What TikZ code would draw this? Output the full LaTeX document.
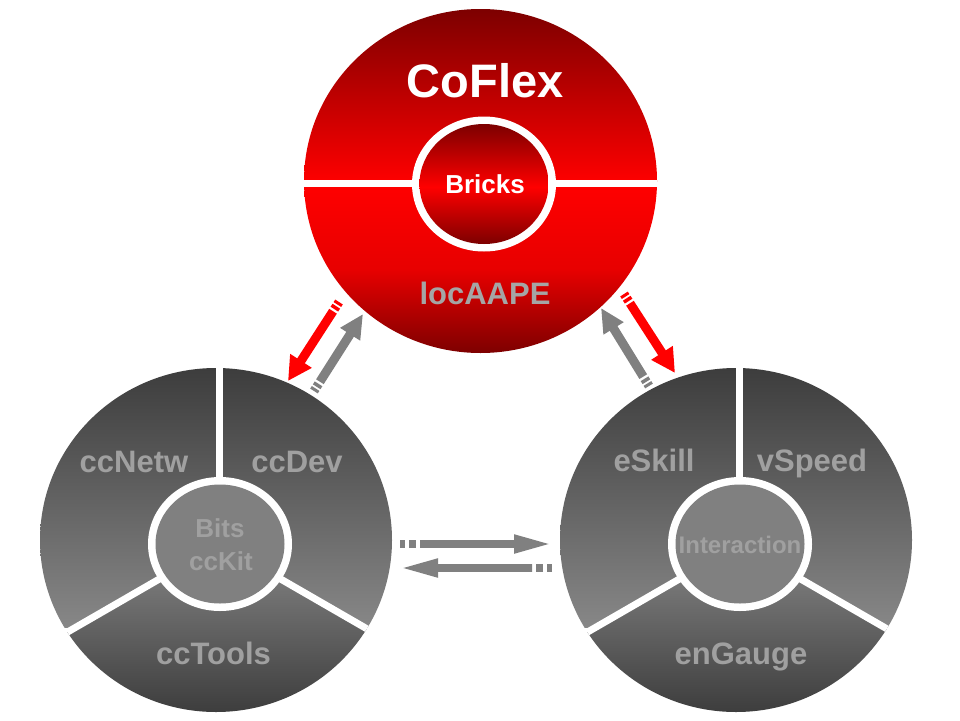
\documentclass[tikz,border=0pt]{standalone}
\usepackage{fontspec}
\setmainfont{Liberation Sans}
\usetikzlibrary{calc,arrows.meta}
\definecolor{rdark}{HTML}{7A0000}
\definecolor{rbright}{HTML}{FF0000}
\definecolor{gdark}{HTML}{3C3C3C}
\definecolor{glight}{HTML}{878787}
\definecolor{ginner}{HTML}{808080}
\definecolor{gtext}{HTML}{A0A0A0}
\definecolor{agray}{HTML}{808080}
\definecolor{rtext}{HTML}{A5A5A5}

\tikzset{
  lbl/.style={anchor=base, inner sep=0pt, font=\bfseries\fontsize{31}{31}\selectfont, text=gtext},
  sepline/.style={white, line width=7pt},
}

% #1 colour, #2 from, #3 to, #4 shaft width, #5 head length, #6 head width, #7 tail length, #8 tail dash pattern
\newcommand{\blockarrow}[8]{%
  \draw[#1, line width=#4, dash pattern=#8] (#2) -- ($(#2)!#7!(#3)$);
  \draw[#1, line width=#4, -{Triangle[length=#5, width=#6]}] ($(#2)!#7!(#3)$) -- (#3);
}

% #1,#2 outer centre ; #3,#4 inner centre
\newcommand{\graydisc}[4]{%
  \begin{scope}
    \clip (#1,#2) ellipse [x radius=176pt, y radius=172pt];
    \shade[top color=gdark, bottom color=glight] (#1-180,#2-175) rectangle (#1+180,#2+87);
    \begin{scope}
      \clip (#3,#4) -- ++(210:400pt) -- ++(0:692.8pt) -- cycle;
      \shade[top color=glight, bottom color=gdark] (#1-180,#4) rectangle (#1+180,#2+175);
    \end{scope}
    \draw[sepline] (#3-1,#4) -- ++(90:200pt);
    \draw[sepline] (#3,#4) -- ++(210:250pt);
    \draw[sepline] (#3,#4) -- ++(330:250pt);
  \end{scope}
  \fill[white] (#3,#4) ellipse [x radius=72pt, y radius=67pt];
  \fill[ginner] (#3,#4) ellipse [x radius=64.5pt, y radius=59.5pt];
}

\begin{document}
\begin{tikzpicture}[x=1pt,y=-1pt]
\useasboundingbox (0,0) rectangle (960,720);
\fill[white] (0,0) rectangle (960,720);

% ---------- top red disc ----------
\coordinate (T) at (480.5,181);
\coordinate (Ti) at (484,184);
\begin{scope}
  \clip (T) ellipse [x radius=176.5pt, y radius=172pt];
  \shade[top color=rdark, bottom color=rbright] (300,5) rectangle (660,183.5);
  \shade[top color=rbright, bottom color=rdark, middle color=rbright!82!rdark] (300,183.5) rectangle (660,356);
  \draw[sepline] (300,183.5) -- (660,183.5);
\end{scope}
\fill[white] (Ti) ellipse [x radius=72pt, y radius=67.5pt];
\begin{scope}
  \clip (Ti) ellipse [x radius=64.5pt, y radius=60pt];
  \shade[top color=rdark, bottom color=rbright] (410,123) rectangle (560,187);
  \shade[top color=rbright, bottom color=rdark] (410,187) rectangle (560,245);
\end{scope}

% ---------- grey discs ----------
\coordinate (L) at (216,540);
\coordinate (R) at (736,540);
\graydisc{216}{540}{220}{544}
\graydisc{736}{540}{740}{544}

% ---------- texts ----------
\node[anchor=base, inner sep=0pt, font=\bfseries\fontsize{47}{47}\selectfont, text=white] (coflex) at (485,97) {CoFlex};
\node[anchor=base, inner sep=0pt, font=\bfseries\fontsize{26}{26}\selectfont, text=white] (bricks) at (485,193) {Bricks};
\node[lbl, text=rtext] (locaape) at (485,304) {locAAPE};

\node[lbl] (ccnetw) at (134,472) {ccNetw};
\node[lbl] (ccdev) at (297,472) {ccDev};
\node[lbl] (cctools) at (213.5,664) {ccTools};
\node[lbl, font=\bfseries\fontsize{26}{26}\selectfont] (bits) at (220,537) {Bits};
\node[lbl, font=\bfseries\fontsize{26}{26}\selectfont] (cckit) at (221,570) {ccKit};

\node[lbl] (eskill) at (654,471) {eSkill};
\node[lbl] (vspeed) at (812,471) {vSpeed};
\node[lbl] (engauge) at (741,664) {enGauge};
\node[lbl, font=\bfseries\fontsize{24}{24}\selectfont] (interaction) at (740,553) {Interaction};

% ---------- arrows ----------
\coordinate (a1s) at (339,302);  \coordinate (a1e) at (288,381);
\coordinate (a2s) at (314,391);  \coordinate (a2e) at (363,314);
\coordinate (a3s) at (649,386);  \coordinate (a3e) at (601,308);
\coordinate (a4s) at (624,294);  \coordinate (a4e) at (675,373);
\coordinate (a5s) at (400,544);  \coordinate (a5e) at (552,544);
\coordinate (a6s) at (552,568);  \coordinate (a6e) at (400,568);

\blockarrow{rbright}{a1s}{a1e}{9pt}{24pt}{24pt}{11pt}{on 3pt off 2pt on 3.5pt off 2.5pt}
\blockarrow{agray}{a2s}{a2e}{9pt}{24pt}{22pt}{11pt}{on 3pt off 2pt on 3.5pt off 2.5pt}
\blockarrow{agray}{a3s}{a3e}{9pt}{24pt}{22pt}{11pt}{on 3pt off 2pt on 3.5pt off 2.5pt}
\blockarrow{rbright}{a4s}{a4e}{9pt}{24pt}{24pt}{11pt}{on 3pt off 2pt on 3.5pt off 2.5pt}
\blockarrow{agray}{a5s}{a5e}{7.5pt}{38pt}{17pt}{20pt}{on 5pt off 4pt on 7pt off 4pt}
\blockarrow{agray}{a6s}{a6e}{7.5pt}{38pt}{17pt}{20pt}{on 5pt off 4pt on 7pt off 4pt}
\end{tikzpicture}
\end{document}
